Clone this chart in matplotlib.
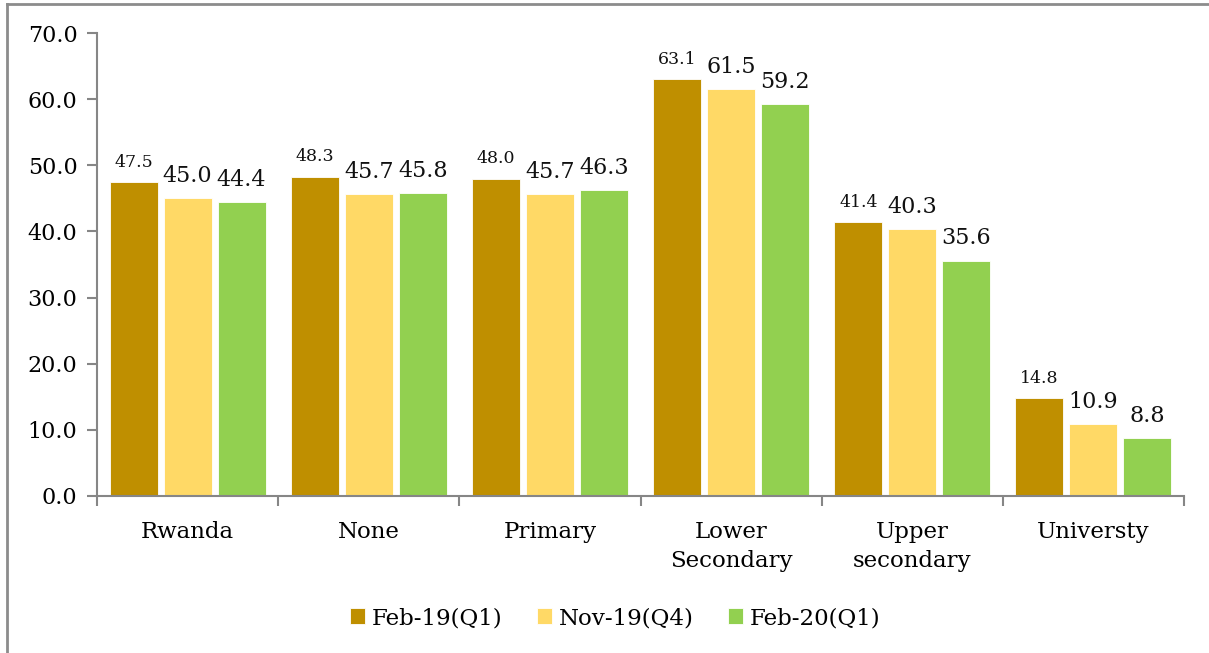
import matplotlib
matplotlib.use("Agg")
import matplotlib.pyplot as plt
import numpy as np
from matplotlib.lines import Line2D

categories = ["Rwanda", "None", "Primary", "Lower\nSecondary", "Upper\nsecondary", "Universty"]
series_names = ["Feb-19(Q1)", "Nov-19(Q4)", "Feb-20(Q1)"]
feb19 = [47.5, 48.3, 48.0, 63.1, 41.4, 14.8]
nov19 = [45.0, 45.7, 45.7, 61.5, 40.3, 10.9]
feb20 = [44.4, 45.8, 46.3, 59.2, 35.6, 8.8]
colors = ["#BF8F00", "#FFD966", "#92D050"]

plt.rcParams['font.family'] = ['DejaVu Serif']

fig = plt.figure(figsize=(12.09, 6.53), dpi=100)
ax = fig.add_axes([97/1209, 1-496/653, (1184-97)/1209, (496-33)/653])

x = np.arange(len(categories))
width = 0.265
step = 0.298
label_sizes = [12.5, 16, 16]
for i, (vals, name) in enumerate(zip([feb19, nov19, feb20], series_names)):
    bars = ax.bar(x + (i-1)*step, vals, width, color=colors[i], label=name,
                  edgecolor='white', linewidth=0.6)
    for b, v in zip(bars, vals):
        ax.annotate(f"{v:.1f}", (b.get_x()+b.get_width()/2, v), xytext=(0, 8),
                    textcoords='offset points', ha='center', va='bottom',
                    fontsize=label_sizes[i], color='#111111')

ax.set_ylim(0, 70)
ax.set_xlim(-0.5, len(categories)-0.5)
ax.set_yticks(np.arange(0, 71, 10))
ax.set_yticklabels([f"{t:.1f}" for t in np.arange(0, 71, 10)], fontsize=16)
ax.set_xticks(x)
ax.set_xticklabels(categories, fontsize=16.5, linespacing=1.4)
ax.tick_params(axis='x', which='major', length=0, pad=18)
ax.set_xticks(np.arange(-0.5, len(categories), 1), minor=True)
ax.tick_params(axis='x', which='minor', length=7, width=1.5, color='#868686', direction='out')
ax.tick_params(axis='y', length=7, width=1.5, color='#868686', pad=7)
for s in ['top', 'right']:
    ax.spines[s].set_visible(False)
for s in ['left', 'bottom']:
    ax.spines[s].set_color('#868686')
    ax.spines[s].set_linewidth(1.5)

fig.legend(loc='center', bbox_to_anchor=(615/1209, 1-618/653), ncol=3, frameon=False,
           fontsize=16.5, handlelength=0.65, handleheight=0.65, handletextpad=0.3,
           columnspacing=1.5)

fig.add_artist(Line2D([7/1209, 1], [1-4/653, 1-4/653], transform=fig.transFigure,
                      color='#8c8c8c', linewidth=2))
fig.add_artist(Line2D([7/1209, 7/1209], [0, 1-4/653], transform=fig.transFigure,
                      color='#8c8c8c', linewidth=2))

fig.savefig("out.png", dpi=100)
